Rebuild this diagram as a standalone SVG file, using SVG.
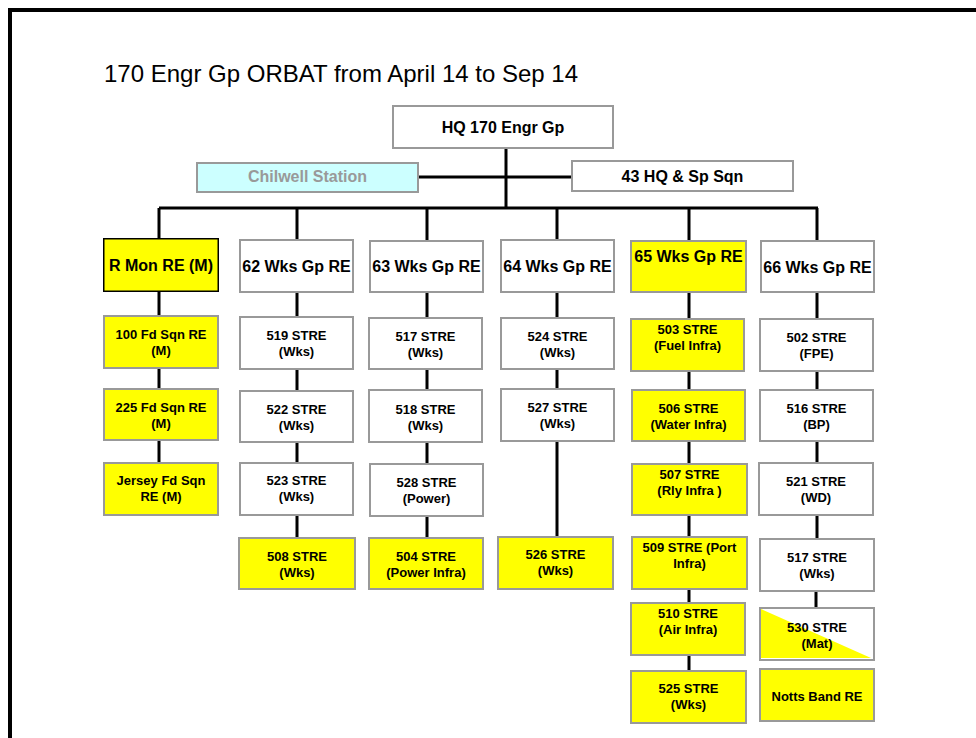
<svg xmlns="http://www.w3.org/2000/svg" width="976" height="738" viewBox="0 0 976 738">
<style>
.bx{fill:#fff;stroke:#999;stroke-width:2}
.y{fill:#ff0}
.c{fill:#ccffff}
.rm{fill:#ff0;stroke:#000;stroke-width:1.5}
text{font-family:"Liberation Sans",Arial,sans-serif;font-weight:bold;text-anchor:middle;fill:#000}
.h{font-size:16px}
.s{font-size:13px}
.g{fill:#999}
.title{font-weight:normal;text-anchor:start;font-size:24px}
.ln{stroke:#000;stroke-width:3;fill:none}
</style>
<rect width="976" height="738" fill="#fff"/>
<path d="M10,738 V10 H976" fill="none" stroke="#000" stroke-width="4"/>
<text class="title" x="104" y="82">170 Engr Gp ORBAT from April 14 to Sep 14</text>
<g id="connectors" class="ln">
<path d="M506,149 V208"/>
<path d="M419,177 H571"/>
<path d="M159,208 H818"/>
<path d="M159,208 V462"/>
<path d="M297,208 V537"/>
<path d="M427,208 V537"/>
<path d="M557,208 V536"/>
<path d="M689,208 V670"/>
<path d="M817,208 V538"/>
<path d="M816,592 V607"/>
</g>
<g id="hq"><rect class="bx" x="393" y="106" width="220" height="42"/><text class="h" x="503" y="133">HQ 170 Engr Gp</text></g>
<g id="chilwell"><rect class="bx c" x="197" y="163" width="221" height="29"/><text class="h g" x="307.5" y="182">Chilwell Station</text></g>
<g id="sq43"><rect class="bx" x="572" y="161" width="221" height="30"/><text class="h" x="682.5" y="182">43 HQ &amp; Sp Sqn</text></g>

<g id="rmon"><rect class="rm" x="103.75" y="238.75" width="114.5" height="52.5"/><text class="h" x="161" y="271">R Mon RE (M)</text></g>
<g id="wks62"><rect class="bx" x="240" y="240" width="113" height="52"/><text class="h" x="296.5" y="272">62 Wks Gp RE</text></g>
<g id="wks63"><rect class="bx" x="370" y="241" width="113" height="51"/><text class="h" x="426.5" y="272">63 Wks Gp RE</text></g>
<g id="wks64"><rect class="bx" x="501" y="240" width="113" height="52"/><text class="h" x="557.5" y="272">64 Wks Gp RE</text></g>
<g id="wks65"><rect class="bx y" x="631" y="241" width="115" height="51"/><text class="h" x="688.5" y="262">65 Wks Gp RE</text></g>
<g id="wks66"><rect class="bx" x="761" y="241" width="113" height="51"/><text class="h" x="817.5" y="273">66 Wks Gp RE</text></g>

<g id="fd100"><rect class="bx y" x="104" y="316" width="114" height="52"/><text class="s" x="161" y="339">100 Fd Sqn RE</text><text class="s" x="161" y="355">(M)</text></g>
<g id="fd225"><rect class="bx y" x="104" y="389" width="114" height="51"/><text class="s" x="161" y="412">225 Fd Sqn RE</text><text class="s" x="161" y="428">(M)</text></g>
<g id="jersey"><rect class="bx y" x="104" y="463" width="114" height="52"/><text class="s" x="161" y="485">Jersey Fd Sqn</text><text class="s" x="161" y="501">RE (M)</text></g>

<g id="s519"><rect class="bx" x="240" y="317" width="113" height="52"/><text class="s" x="296.5" y="340">519 STRE</text><text class="s" x="296.5" y="356">(Wks)</text></g>
<g id="s522"><rect class="bx" x="240" y="391" width="113" height="51"/><text class="s" x="296.5" y="414">522 STRE</text><text class="s" x="296.5" y="430">(Wks)</text></g>
<g id="s523"><rect class="bx" x="240" y="463" width="113" height="52"/><text class="s" x="296.5" y="485">523 STRE</text><text class="s" x="296.5" y="501">(Wks)</text></g>
<g id="s508"><rect class="bx y" x="239" y="538" width="116" height="51"/><text class="s" x="297" y="561">508 STRE</text><text class="s" x="297" y="577">(Wks)</text></g>

<g id="s517a"><rect class="bx" x="369" y="318" width="113" height="51"/><text class="s" x="425.5" y="341">517 STRE</text><text class="s" x="425.5" y="357">(Wks)</text></g>
<g id="s518"><rect class="bx" x="369" y="390" width="113" height="52"/><text class="s" x="425.5" y="414">518 STRE</text><text class="s" x="425.5" y="430">(Wks)</text></g>
<g id="s528"><rect class="bx" x="370" y="464" width="113" height="52"/><text class="s" x="426.5" y="487">528 STRE</text><text class="s" x="426.5" y="503">(Power)</text></g>
<g id="s504"><rect class="bx y" x="369" y="538" width="114" height="51"/><text class="s" x="426" y="561">504 STRE</text><text class="s" x="426" y="577">(Power Infra)</text></g>

<g id="s524"><rect class="bx" x="501" y="318" width="113" height="51"/><text class="s" x="557.5" y="341">524 STRE</text><text class="s" x="557.5" y="357">(Wks)</text></g>
<g id="s527"><rect class="bx" x="501" y="389" width="113" height="52"/><text class="s" x="557.5" y="412">527 STRE</text><text class="s" x="557.5" y="428">(Wks)</text></g>
<g id="s526"><rect class="bx y" x="498" y="537" width="115" height="52"/><text class="s" x="555.5" y="559">526 STRE</text><text class="s" x="555.5" y="575">(Wks)</text></g>

<g id="s503"><rect class="bx y" x="631" y="319" width="113" height="52"/><text class="s" x="687.5" y="334">503 STRE</text><text class="s" x="687.5" y="350">(Fuel Infra)</text></g>
<g id="s506"><rect class="bx y" x="632" y="390" width="113" height="51"/><text class="s" x="688.5" y="413">506 STRE</text><text class="s" x="688.5" y="429">(Water Infra)</text></g>
<g id="s507"><rect class="bx y" x="632" y="464" width="115" height="51"/><text class="s" x="689.5" y="479">507 STRE</text><text class="s" x="689.5" y="495">(Rly Infra )</text></g>
<g id="s509"><rect class="bx y" x="632" y="537" width="115" height="52"/><text class="s" x="689.5" y="552">509 STRE (Port</text><text class="s" x="689.5" y="568">Infra)</text></g>
<g id="s510"><rect class="bx y" x="631" y="603" width="114" height="52"/><text class="s" x="688" y="618">510 STRE</text><text class="s" x="688" y="634">(Air Infra)</text></g>
<g id="s525"><rect class="bx y" x="631" y="671" width="115" height="52"/><text class="s" x="688.5" y="693">525 STRE</text><text class="s" x="688.5" y="709">(Wks)</text></g>

<g id="s502"><rect class="bx" x="760" y="319" width="113" height="52"/><text class="s" x="816.5" y="342">502 STRE</text><text class="s" x="816.5" y="358">(FPE)</text></g>
<g id="s516"><rect class="bx" x="760" y="390" width="113" height="51"/><text class="s" x="816.5" y="413">516 STRE</text><text class="s" x="816.5" y="429">(BP)</text></g>
<g id="s521"><rect class="bx" x="759" y="463" width="114" height="52"/><text class="s" x="816" y="486">521 STRE</text><text class="s" x="816" y="502">(WD)</text></g>
<g id="s517b"><rect class="bx" x="760" y="539" width="114" height="52"/><text class="s" x="817" y="562">517 STRE</text><text class="s" x="817" y="578">(Wks)</text></g>
<g id="s530"><rect class="bx" x="760" y="608" width="114" height="52"/><polygon points="761,609 761,658 871,658" fill="#ff0"/><text class="s" x="817" y="632">530 STRE</text><text class="s" x="817" y="648">(Mat)</text></g>
<g id="notts"><rect class="bx y" x="760" y="669" width="114" height="52"/><text class="s" x="817" y="701">Notts Band RE</text></g>
</svg>
